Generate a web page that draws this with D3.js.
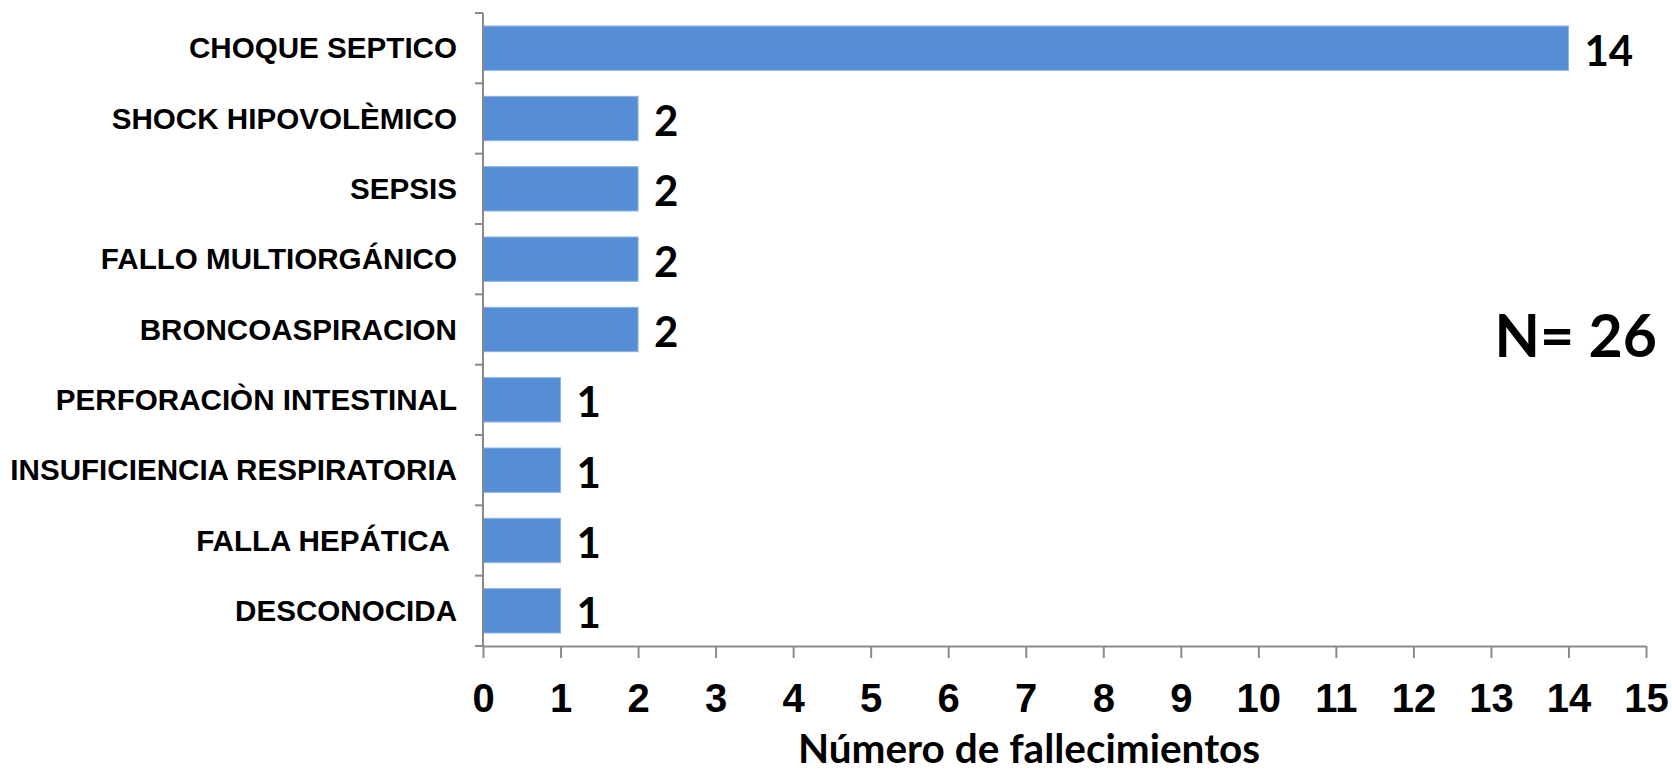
<!DOCTYPE html>
<html>
<head>
<meta charset="utf-8">
<script src="https://cdn.jsdelivr.net/npm/d3@7"></script>
<style>
  html, body { margin: 0; padding: 0; background: #fff; }
  svg { display: block; }
  text { white-space: pre; }
</style>
</head>
<body>
<svg id="chart" width="1672" height="774"></svg>
<script>
const categories = ["CHOQUE SEPTICO", "SHOCK HIPOVOLÈMICO", "SEPSIS", "FALLO MULTIORGÁNICO",
  "BRONCOASPIRACION", "PERFORACIÒN INTESTINAL", "INSUFICIENCIA RESPIRATORIA", "FALLA HEPÁTICA ", "DESCONOCIDA"];
const values = [14, 2, 2, 2, 2, 1, 1, 1, 1];
const xTicks = [0,1,2,3,4,5,6,7,8,9,10,11,12,13,14,15];
const xTitle = "Número de fallecimientos";
const totalLabel = "N= 26";

(function () {
const svg = d3.select("#chart");
const mLeft = 483, mRight = 1646, mTop = 13, mBottom = 646;
const axisColor = "#8a8a8a";

const x = d3.scaleLinear().domain([0, 15]).range([mLeft, mRight]);
const y = d3.scaleBand().domain(categories).range([mTop, mBottom]).paddingInner(0.37).paddingOuter(0.185);

// bars
svg.append("g").selectAll("rect").data(values).join("rect")
  .attr("x", x(0))
  .attr("y", (d, i) => y(categories[i]))
  .attr("width", d => x(d) - x(0))
  .attr("height", y.bandwidth())
  .attr("fill", "#558ED5")
  .attr("stroke", "#8DB3E2")
  .attr("stroke-width", 1);

// x axis
const xAxis = svg.append("g").attr("transform", `translate(0,${mBottom})`)
  .call(d3.axisBottom(x).tickValues(xTicks).tickSize(12).tickSizeOuter(0).tickPadding(26).tickFormat(d3.format("d")));
xAxis.select(".domain").attr("stroke", axisColor).attr("stroke-width", 2);
xAxis.selectAll(".tick line").attr("stroke", axisColor).attr("stroke-width", 2);
xAxis.selectAll(".tick text")
  .attr("font-family", "'Liberation Sans', Arial, sans-serif")
  .attr("font-weight", "bold").attr("font-size", 40).attr("fill", "#000")
  .attr("dy", null).attr("y", 66);

// y axis line and boundary ticks
const yAxis = svg.append("g");
yAxis.append("line").attr("x1", mLeft).attr("x2", mLeft).attr("y1", mTop).attr("y2", mBottom)
  .attr("stroke", axisColor).attr("stroke-width", 2);
const bounds = d3.range(categories.length + 1).map(i => mTop + i * y.step());
yAxis.selectAll("line.b").data(bounds).join("line").attr("class", "b")
  .attr("x1", mLeft - 8).attr("x2", mLeft).attr("y1", d => d).attr("y2", d => d)
  .attr("stroke", axisColor).attr("stroke-width", 2);

// category labels
svg.append("g").selectAll("text").data(categories).join("text")
  .attr("x", 457)
  .attr("y", d => y(d) + y.bandwidth() / 2 + 10)
  .attr("text-anchor", "end")
  .attr("font-family", "'Liberation Sans', Arial, sans-serif")
  .attr("font-weight", "bold").attr("font-size", 29.6).attr("fill", "#000")
  .text(d => d);

// value labels
svg.append("g").selectAll("text").data(values).join("text")
  .attr("x", d => x(d) + 16)
  .attr("y", (d, i) => y(categories[i]) + y.bandwidth() / 2 + 17.5)
  .attr("font-family", "Lato, 'Open Sans', sans-serif")
  .attr("font-weight", "bold").attr("font-size", 42).attr("fill", "#000")
  .text(d => d);

// N label
svg.append("text").attr("x", 1657).attr("y", 357).attr("text-anchor", "end")
  .attr("font-family", "Lato, 'Open Sans', sans-serif")
  .attr("font-weight", "bold").attr("font-size", 59).attr("fill", "#000")
  .text(totalLabel);

// x title
svg.append("text").attr("x", 1029).attr("y", 763).attr("text-anchor", "middle")
  .attr("font-family", "Lato, 'Open Sans', sans-serif")
  .attr("font-weight", "bold").attr("font-size", 40.5).attr("fill", "#000")
  .text(xTitle);
})();
</script>
</body>
</html>
